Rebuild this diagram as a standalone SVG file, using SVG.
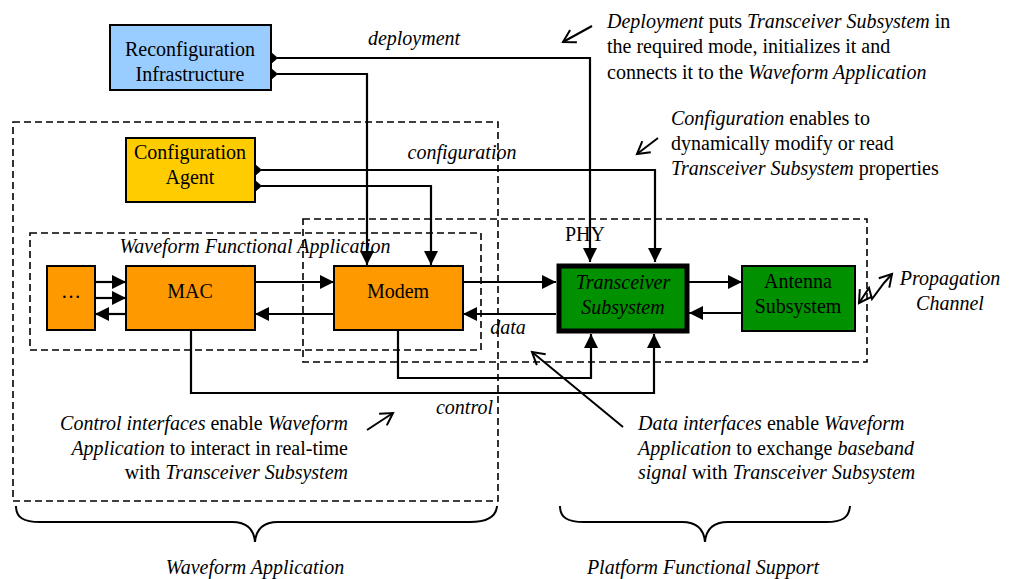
<svg xmlns="http://www.w3.org/2000/svg" width="1014" height="579" viewBox="0 0 1014 579" font-family="Liberation Serif, Times New Roman, serif" font-size="20">
<defs>
<marker id="ah" markerUnits="userSpaceOnUse" markerWidth="14" markerHeight="14" refX="14" refY="7" orient="auto" viewBox="0 0 14 14">
<path d="M0,0 L14,7 L0,14 z" fill="#000" stroke="none"/>
</marker>
<marker id="vh" markerUnits="userSpaceOnUse" markerWidth="16" markerHeight="16" refX="13" refY="8" orient="auto-start-reverse" viewBox="0 0 16 16">
<path d="M1,1 L13,8 L1,15" fill="none" stroke="#000" stroke-width="2"/>
</marker>
<polygon id="dia" points="-7,0 0,-6 7,0 0,6" fill="#000"/>
</defs>
<rect width="1014" height="579" fill="#fff"/>

<!-- containers -->
<g id="waveform-application-area">
<rect x="13" y="122" width="485" height="379" fill="none" stroke="#000" stroke-width="1.6" stroke-dasharray="7 4"/>
</g>
<g id="waveform-functional-application">
<rect x="30" y="233" width="451" height="117" fill="none" stroke="#000" stroke-width="1.6" stroke-dasharray="7 4"/>
<text font-family="Liberation Serif" font-style="italic" x="255" y="253" text-anchor="middle">Waveform Functional Application</text>
</g>
<g id="phy">
<rect x="303" y="219" width="564" height="143" fill="none" stroke="#000" stroke-width="1.6" stroke-dasharray="7 4"/>
<text font-family="Liberation Serif" x="585" y="241" text-anchor="middle">PHY</text>
</g>

<!-- connectors -->
<g id="connectors">
<g fill="none" stroke="#000" stroke-width="2.2" marker-end="url(#ah)">
<path d="M271,58 H590 V262"/>
<path d="M271,74 H367 V265"/>
<path d="M255,170 H655 V262"/>
<path d="M255,186 H431 V265"/>
<path d="M95,282 H126"/>
<path d="M95,298 H126"/>
<path d="M126,314 H95"/>
<path d="M255,282 H334"/>
<path d="M334,314 H255"/>
<path d="M463,282 H556"/>
<path d="M556,314 H463"/>
<path d="M689,282 H742"/>
<path d="M742,313 H689"/>
<path d="M398,330 V378 H591 V334"/>
<path d="M191,330 V393 H654 V334"/>
</g>
<use href="#dia" x="271" y="58"/>
<use href="#dia" x="271" y="74"/>
<use href="#dia" x="255" y="170"/>
<use href="#dia" x="255" y="186"/>
<g font-family="Liberation Serif" font-style="italic" fill="#000">
<text x="414" y="45" text-anchor="middle">deployment</text>
<text x="462" y="159" text-anchor="middle">configuration</text>
<text x="508" y="334" text-anchor="middle">data</text>
<text x="493" y="414" text-anchor="end">control</text>
</g>
</g>

<!-- nodes -->
<g id="reconfiguration-infrastructure" font-family="Liberation Serif">
<rect x="110" y="25" width="161" height="65" fill="#99CCFF" stroke="#000" stroke-width="2"/>
<text x="190" y="56" text-anchor="middle">Reconfiguration</text>
<text x="190" y="81" text-anchor="middle">Infrastructure</text>
</g>
<g id="configuration-agent" font-family="Liberation Serif">
<rect x="126" y="138" width="129" height="64" fill="#FFCC00" stroke="#000" stroke-width="2"/>
<text x="190" y="159" text-anchor="middle">Configuration</text>
<text x="190" y="184" text-anchor="middle">Agent</text>
</g>
<g id="ellipsis-block" font-family="Liberation Serif">
<rect x="47" y="266" width="48" height="64" fill="#FF9900" stroke="#000" stroke-width="2"/>
<text x="71" y="298" text-anchor="middle">…</text>
</g>
<g id="mac" font-family="Liberation Serif">
<rect x="126" y="266" width="129" height="64" fill="#FF9900" stroke="#000" stroke-width="2"/>
<text x="190" y="298" text-anchor="middle">MAC</text>
</g>
<g id="modem" font-family="Liberation Serif">
<rect x="334" y="266" width="129" height="64" fill="#FF9900" stroke="#000" stroke-width="2"/>
<text x="398" y="298" text-anchor="middle">Modem</text>
</g>
<g id="transceiver-subsystem" font-family="Liberation Serif" font-style="italic">
<rect x="559" y="266" width="128" height="65" fill="#009000" stroke="#000" stroke-width="5"/>
<text x="623" y="289" text-anchor="middle">Transceiver</text>
<text x="623" y="314" text-anchor="middle">Subsystem</text>
</g>
<g id="antenna-subsystem" font-family="Liberation Serif">
<rect x="742" y="266" width="113" height="65" fill="#009000" stroke="#000" stroke-width="2"/>
<text x="798" y="288" text-anchor="middle">Antenna</text>
<text x="798" y="313" text-anchor="middle">Subsystem</text>
</g>
<g id="propagation-channel" font-family="Liberation Serif" font-style="italic">
<path d="M859,303 L869,288 L872,299 L884,283 L892,274" fill="none" stroke="#000" stroke-width="2" marker-start="url(#vh)" marker-end="url(#vh)"/>
<text x="950" y="285" text-anchor="middle">Propagation</text>
<text x="950" y="310" text-anchor="middle">Channel</text>
</g>

<!-- annotations -->
<g id="annotations" font-family="Liberation Serif">
<g fill="none" stroke="#000" stroke-width="2" marker-end="url(#vh)">
<path d="M592,26 L563,42"/>
<path d="M658,138 L637,154"/>
<path d="M367,430 L393,413"/>
<path d="M623,427 L532,352"/>
</g>
<text x="607" y="28"><tspan font-style="italic">Deployment</tspan> puts <tspan font-style="italic">Transceiver Subsystem</tspan> in</text>
<text x="607" y="53">the required mode, initializes it and</text>
<text x="607" y="79">connects it to the <tspan font-style="italic">Waveform Application</tspan></text>

<text x="671" y="125"><tspan font-style="italic">Configuration</tspan> enables to</text>
<text x="671" y="150">dynamically modify or read</text>
<text x="671" y="175"><tspan font-style="italic">Transceiver Subsystem</tspan> properties</text>

<text x="348" y="430" text-anchor="end"><tspan font-style="italic">Control interfaces</tspan> enable <tspan font-style="italic">Waveform</tspan></text>
<text x="348" y="455" text-anchor="end"><tspan font-style="italic">Application</tspan> to interact in real-time</text>
<text x="348" y="479" text-anchor="end">with <tspan font-style="italic">Transceiver Subsystem</tspan></text>

<text x="638" y="430"><tspan font-style="italic">Data interfaces</tspan> enable <tspan font-style="italic">Waveform</tspan></text>
<text x="638" y="455"><tspan font-style="italic">Application</tspan> to exchange <tspan font-style="italic">baseband</tspan></text>
<text x="638" y="479"><tspan font-style="italic">signal</tspan> with <tspan font-style="italic">Transceiver Subsystem</tspan></text>
</g>

<!-- braces -->
<g id="braces" font-family="Liberation Serif" font-style="italic">
<path d="M16,506 C16,518 24,522 40,522 H232 C248,522 254,530 255,542 C256,530 262,522 278,522 H470 C486,522 496,518 497,506" fill="none" stroke="#000" stroke-width="2"/>
<path d="M560,506 C560,518 568,522 584,522 H682 C698,522 704,530 705,542 C706,530 712,522 728,522 H826 C842,522 849,518 850,506" fill="none" stroke="#000" stroke-width="2"/>
<text x="255" y="574" text-anchor="middle">Waveform Application</text>
<text x="703" y="574" text-anchor="middle">Platform Functional Support</text>
</g>
</svg>
